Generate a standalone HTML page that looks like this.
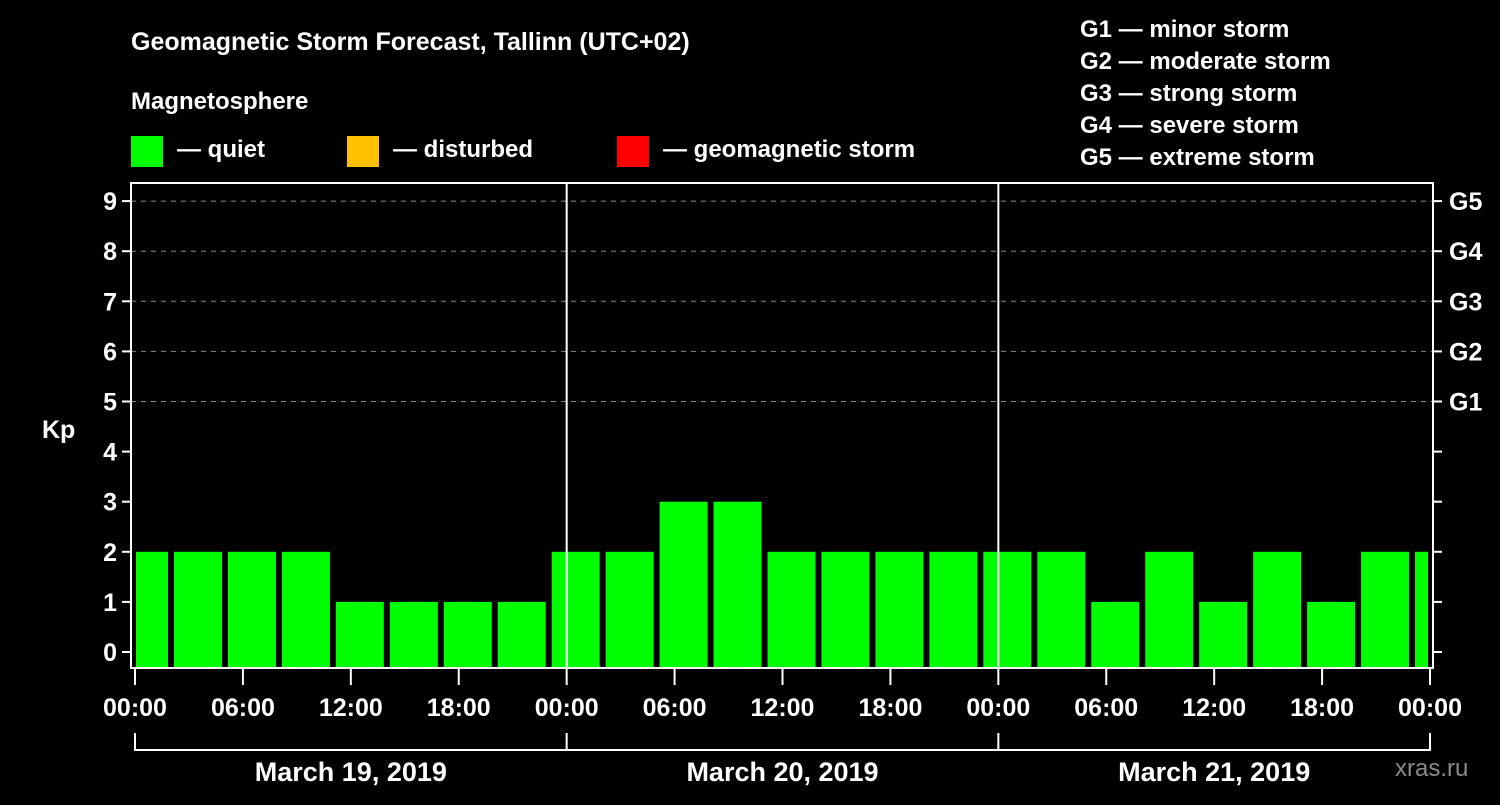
<!DOCTYPE html>
<html><head><meta charset="utf-8"><style>
body{margin:0;background:#000;width:1500px;height:800px;overflow:hidden;font-family:"Liberation Sans",sans-serif}
svg text{font-family:"Liberation Sans",sans-serif;font-weight:bold;fill:#fff}
</style></head><body>
<svg id="c" width="1500" height="800">
<text x="131" y="50" font-size="25">Geomagnetic Storm Forecast, Tallinn (UTC+02)</text>
<text x="131" y="109" font-size="24">Magnetosphere</text>
<rect x="131" y="136" width="32" height="31" fill="#00ff00"/>
<text x="177" y="157" font-size="24">— quiet</text>
<rect x="347" y="136" width="32" height="31" fill="#ffc000"/>
<text x="393" y="157" font-size="24">— disturbed</text>
<rect x="617" y="136" width="32" height="31" fill="#ff0000"/>
<text x="663" y="157" font-size="24">— geomagnetic storm</text>
<g font-size="24">
<text x="1080" y="37">G1 — minor storm</text>
<text x="1080" y="69">G2 — moderate storm</text>
<text x="1080" y="101">G3 — strong storm</text>
<text x="1080" y="133">G4 — severe storm</text>
<text x="1080" y="165">G5 — extreme storm</text>
</g>
<text x="42" y="438" font-size="25">Kp</text>
<text x="1395" y="776" font-size="24" fill="#888" style="fill:#8a8a8a;font-weight:normal">xras.ru</text>
<g id="plot"></g>
</svg>
<script>
const kpValues=[2,2,2,2,1,1,1,1, 2,2,3,3,2,2,2,2, 2,2,1,2,1,2,1,2,2];
const yTicks=[0,1,2,3,4,5,6,7,8,9];
const gLabels=["G1","G2","G3","G4","G5"];
const dayLabels=["March 19, 2019","March 20, 2019","March 21, 2019"];
const hourLabels=["00:00","06:00","12:00","18:00"];
const NS="http://www.w3.org/2000/svg";
const g=document.getElementById('plot');
const L=131,R=1433,T=183,B=668,X0=135,DAY=431.67;
const xh=h=>X0+h*DAY/24;
const yv=v=>652-v*50.1;
function mk(t,a,p){const e=document.createElementNS(NS,t);for(const k in a)e.setAttribute(k,a[k]);(p||g).appendChild(e);return e;}
// gridlines
for(let v=5;v<=9;v++){const e=mk('line',{x1:L,x2:R,y1:yv(v),y2:yv(v),stroke:'#888','stroke-dasharray':'5,5','stroke-width':1});

}
// bars
kpValues.forEach((v,k)=>{let x1=xh(3*k-1)+3,x2=x1+48;x1=Math.max(x1,L+5);x2=Math.min(x2,R-5);
const col=v>=5?'#ff0000':(v>=4?'#ffc000':'#00ff00');
const e=mk('rect',{x:x1,y:yv(v),width:x2-x1,height:B-1-yv(v),fill:col});

});
// day separators
for(let d=1;d<3;d++){const e=mk('line',{x1:xh(24*d),x2:xh(24*d),y1:T,y2:B,stroke:'#fff','stroke-width':2});

}
// frame
const fr=mk('rect',{x:L,y:T,width:R-L,height:B-T,fill:'none',stroke:'#fff','stroke-width':2});


// y ticks
yTicks.forEach(v=>{mk('line',{x1:L-9,x2:L,y1:yv(v),y2:yv(v),stroke:'#fff','stroke-width':2});
mk('line',{x1:R,x2:R+9,y1:yv(v),y2:yv(v),stroke:'#fff','stroke-width':2});
const t=mk('text',{x:L-14,y:yv(v)+9,'text-anchor':'end','font-size':25});t.textContent=v;

});
gLabels.forEach((s,i)=>{const t=mk('text',{x:1449,y:yv(5+i)+9,'font-size':25});t.textContent=s;

});
// x ticks
for(let d=0;d<3;d++){for(let i=0;i<=4;i++){if(i==4&&d<2)continue;const h=24*d+6*i;
mk('line',{x1:xh(h),x2:xh(h),y1:B,y2:B+17,stroke:'#fff','stroke-width':2});
const t=mk('text',{x:xh(h),y:716,'text-anchor':'middle','font-size':25});t.textContent=hourLabels[i%4];

}
const t=mk('text',{x:xh(24*d+12),y:781,'text-anchor':'middle','font-size':27});t.textContent=dayLabels[d];

}
mk('line',{x1:xh(0),x2:xh(72),y1:750,y2:750,stroke:'#fff','stroke-width':2});
for(let d=0;d<=3;d++)mk('line',{x1:xh(24*d),x2:xh(24*d),y1:733,y2:751,stroke:'#fff','stroke-width':2});
</script>
</body></html>
